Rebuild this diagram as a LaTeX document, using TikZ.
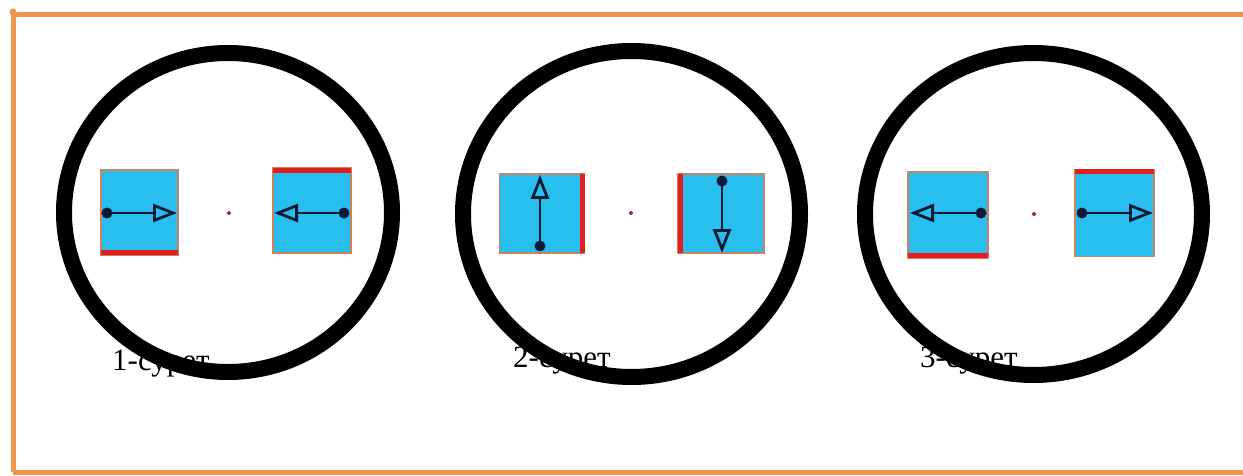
\documentclass[tikz,border=0pt]{standalone}
\usepackage{fontspec}
\setmainfont{Liberation Serif}
\usetikzlibrary{arrows.meta}
\definecolor{frameorange}{RGB}{240,150,75}
\definecolor{boxblue}{RGB}{40,190,238}
\definecolor{boxedge}{RGB}{205,130,95}
\definecolor{barred}{RGB}{228,30,30}
\definecolor{navy}{RGB}{12,25,55}
\definecolor{centerdot}{RGB}{160,40,70}
\tikzset{
  magnet/.style={draw=boxedge, fill=boxblue, line width=1.6pt, inner sep=0pt, outer sep=0pt},
  redbar/.style={draw=barred, line width=5pt},
  vec/.style={draw=navy, line width=2.2pt, -{Triangle[open,length=24pt,width=18pt,line width=2.8pt]}},
  pin/.style={fill=navy},
  ring/.style={draw=black, line width=16pt},
  caption/.style={font=\fontsize{31}{36}\selectfont, anchor=base west, inner sep=0pt},
  framebar/.style={draw=frameorange, line width=5pt}
}
\begin{document}
\begin{tikzpicture}[x=1pt,y=-1pt]
\useasboundingbox (0,0) rectangle (1243,476);
% frame
\draw[framebar] (13,472) -- (13,14.5) -- (1243,14.5);
\draw[framebar] (13,472) -- (1243,472);
\fill[frameorange] (13,12) circle (3.5);

% captions (behind rings)
\node[caption] (c1) at (112,370) {1-сурет};
\node[caption] (c2) at (513,367) {2-сурет};
\node[caption] (c3) at (920,367) {3-сурет};

% ---------- figure 1 ----------
\node[magnet, minimum width=77pt, minimum height=85pt] (a1) at (139.5,212.5) {};
\draw[redbar] ([yshift=2.5pt]a1.south west) -- ([yshift=2.5pt]a1.south east);
\coordinate (a1s) at (107,213);
\coordinate (a1t) at (177,213);
\draw[vec] (a1s) -- (a1t);
\fill[pin] (a1s) circle (5.5);

\node[magnet, minimum width=78pt, minimum height=85pt] (b1) at (312,210.5) {};
\draw[redbar] ([yshift=-2.5pt]b1.north west) -- ([yshift=-2.5pt]b1.north east);
\coordinate (b1s) at (344,213);
\coordinate (b1t) at (274,213);
\draw[vec] (b1s) -- (b1t);
\fill[pin] (b1s) circle (5.5);

\fill[centerdot] (229,213) coordinate (o1) circle (2);

% ---------- figure 2 ----------
\node[magnet, minimum width=85pt, minimum height=79pt] (a2) at (542,213.5) {};
\draw[redbar] ([xshift=-2.5pt]a2.north east) -- ([xshift=-2.5pt]a2.south east);
\coordinate (a2s) at (540,246);
\coordinate (a2t) at (540,175);
\draw[vec] (a2s) -- (a2t);
\fill[pin] (a2s) circle (5.5);

\node[magnet, minimum width=86pt, minimum height=79pt] (b2) at (721,213.5) {};
\draw[redbar] ([xshift=2.5pt]b2.north west) -- ([xshift=2.5pt]b2.south west);
\coordinate (b2s) at (722,181);
\coordinate (b2t) at (722,253);
\draw[vec] (b2s) -- (b2t);
\fill[pin] (b2s) circle (5.5);

\fill[centerdot] (631,213) coordinate (o2) circle (2);

% ---------- figure 3 ----------
\node[magnet, minimum width=80pt, minimum height=86pt] (a3) at (948,215) {};
\draw[redbar] ([yshift=2.5pt]a3.south west) -- ([yshift=2.5pt]a3.south east);
\coordinate (a3s) at (981,213);
\coordinate (a3t) at (910,213);
\draw[vec] (a3s) -- (a3t);
\fill[pin] (a3s) circle (5.5);

\node[magnet, minimum width=79pt, minimum height=87pt] (b3) at (1114.5,213) {};
\draw[redbar] ([yshift=-2.5pt]b3.north west) -- ([yshift=-2.5pt]b3.north east);
\coordinate (b3s) at (1082,213);
\coordinate (b3t) at (1153,213);
\draw[vec] (b3s) -- (b3t);
\fill[pin] (b3s) circle (5.5);

\fill[centerdot] (1034,214) coordinate (o3) circle (2);

% rings
\draw[ring] (228,212.5) ellipse [x radius=164, y radius=159.5];
\draw[ring] (631.5,214) ellipse [x radius=168.5, y radius=163];
\draw[ring] (1033.5,214) ellipse [x radius=168.5, y radius=161];
\end{tikzpicture}
\end{document}
